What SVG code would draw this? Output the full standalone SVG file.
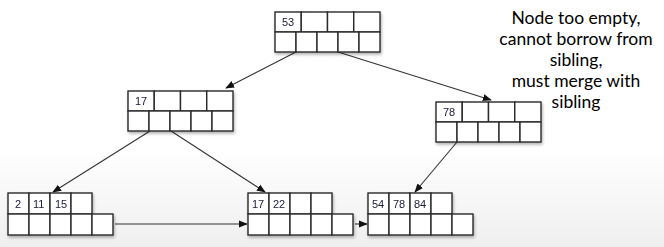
<svg xmlns="http://www.w3.org/2000/svg" width="664" height="247" viewBox="0 0 664 247">
<style>
.c{fill:#fff;stroke:#2a2a2a;stroke-width:1.4}
.n{font-family:"Liberation Sans",Arial,sans-serif;font-size:11px;fill:#1a1a3a}
.t{font-family:Lato,"Open Sans",sans-serif;font-size:17.5px;fill:#000;text-anchor:middle}
.e{stroke:#333;stroke-width:1.1;fill:none;marker-end:url(#ah)}
</style>
<defs>
<linearGradient id="bg" x1="0" y1="0" x2="0" y2="1">
<stop offset="0.6" stop-color="#fff"/>
<stop offset="1" stop-color="#efefef"/>
</linearGradient>
<filter id="sh" x="-10%" y="-10%" width="130%" height="140%">
<feGaussianBlur in="SourceAlpha" stdDeviation="1.5"/>
<feOffset dx="1" dy="2" result="b"/>
<feComponentTransfer><feFuncA type="linear" slope="0.3"/></feComponentTransfer>
<feMerge><feMergeNode/><feMergeNode in="SourceGraphic"/></feMerge>
</filter>
<marker id="ah" viewBox="0 0 10 10" refX="9" refY="5" markerWidth="9" markerHeight="9" orient="auto" markerUnits="userSpaceOnUse">
<path d="M0,1 L10,5 L0,9 z" fill="#111"/>
</marker>
</defs>
<rect width="664" height="247" fill="url(#bg)"/>

<g id="connectors">
<line class="e" x1="296" y1="52" x2="226" y2="88"/>
<line class="e" x1="338" y1="52" x2="491" y2="100"/>
<line class="e" x1="150" y1="131" x2="53" y2="192"/>
<line class="e" x1="171" y1="131" x2="265" y2="192"/>
<line class="e" x1="457" y1="142" x2="415" y2="192"/>
<line class="e" x1="115" y1="224" x2="247" y2="224"/>
<line class="e" x1="355" y1="224" x2="367" y2="224"/>
</g>

<g id="root" filter="url(#sh)">
<rect class="c" x="275" y="12" width="26.25" height="20"/>
<rect class="c" x="301.25" y="12" width="26.25" height="20"/>
<rect class="c" x="327.5" y="12" width="26.25" height="20"/>
<rect class="c" x="353.75" y="12" width="26.25" height="20"/>
<rect class="c" x="275" y="32" width="21" height="20"/>
<rect class="c" x="296" y="32" width="21" height="20"/>
<rect class="c" x="317" y="32" width="21" height="20"/>
<rect class="c" x="338" y="32" width="21" height="20"/>
<rect class="c" x="359" y="32" width="21" height="20"/>
<text class="n" x="282" y="26">53</text>
</g>

<g id="node17" filter="url(#sh)">
<rect class="c" x="128" y="91" width="26.25" height="20"/>
<rect class="c" x="154.25" y="91" width="26.25" height="20"/>
<rect class="c" x="180.5" y="91" width="26.25" height="20"/>
<rect class="c" x="206.75" y="91" width="26.25" height="20"/>
<rect class="c" x="128" y="111" width="21" height="20"/>
<rect class="c" x="149" y="111" width="21" height="20"/>
<rect class="c" x="170" y="111" width="21" height="20"/>
<rect class="c" x="191" y="111" width="21" height="20"/>
<rect class="c" x="212" y="111" width="21" height="20"/>
<text class="n" x="135" y="105">17</text>
</g>

<g id="node78" filter="url(#sh)">
<rect class="c" x="436" y="102" width="26.25" height="20"/>
<rect class="c" x="462.25" y="102" width="26.25" height="20"/>
<rect class="c" x="488.5" y="102" width="26.25" height="20"/>
<rect class="c" x="514.75" y="102" width="26.25" height="20"/>
<rect class="c" x="436" y="122" width="21" height="20"/>
<rect class="c" x="457" y="122" width="21" height="20"/>
<rect class="c" x="478" y="122" width="21" height="20"/>
<rect class="c" x="499" y="122" width="21" height="20"/>
<rect class="c" x="520" y="122" width="21" height="20"/>
<text class="n" x="443" y="116">78</text>
</g>

<g id="leaf1" filter="url(#sh)">
<rect class="c" x="8" y="193" width="21" height="21"/>
<rect class="c" x="29" y="193" width="21" height="21"/>
<rect class="c" x="50" y="193" width="21" height="21"/>
<rect class="c" x="71" y="193" width="21" height="21"/>
<rect class="c" x="8" y="214" width="21" height="21"/>
<rect class="c" x="29" y="214" width="21" height="21"/>
<rect class="c" x="50" y="214" width="21" height="21"/>
<rect class="c" x="71" y="214" width="21" height="21"/>
<rect class="c" x="92" y="214" width="21" height="21"/>
<text class="n" x="15" y="208">2</text>
<text class="n" x="33" y="208">11</text>
<text class="n" x="55" y="208">15</text>
</g>

<g id="leaf2" filter="url(#sh)">
<rect class="c" x="248" y="193" width="21" height="21"/>
<rect class="c" x="269" y="193" width="21" height="21"/>
<rect class="c" x="290" y="193" width="21" height="21"/>
<rect class="c" x="311" y="193" width="21" height="21"/>
<rect class="c" x="248" y="214" width="21" height="21"/>
<rect class="c" x="269" y="214" width="21" height="21"/>
<rect class="c" x="290" y="214" width="21" height="21"/>
<rect class="c" x="311" y="214" width="21" height="21"/>
<rect class="c" x="332" y="214" width="21" height="21"/>
<text class="n" x="252" y="208">17</text>
<text class="n" x="273" y="208">22</text>
</g>

<g id="leaf3" filter="url(#sh)">
<rect class="c" x="368" y="193" width="21" height="21"/>
<rect class="c" x="389" y="193" width="21" height="21"/>
<rect class="c" x="410" y="193" width="21" height="21"/>
<rect class="c" x="431" y="193" width="21" height="21"/>
<rect class="c" x="368" y="214" width="21" height="21"/>
<rect class="c" x="389" y="214" width="21" height="21"/>
<rect class="c" x="410" y="214" width="21" height="21"/>
<rect class="c" x="431" y="214" width="21" height="21"/>
<rect class="c" x="452" y="214" width="21" height="21"/>
<text class="n" x="372" y="208">54</text>
<text class="n" x="393" y="208">78</text>
<text class="n" x="414" y="208">84</text>
</g>

<g id="note">
<text class="t" x="576" y="24">Node too empty,</text>
<text class="t" x="576" y="45">cannot borrow from</text>
<text class="t" x="576" y="66">sibling,</text>
<text class="t" x="576" y="87">must merge with</text>
<text class="t" x="576" y="108">sibling</text>
</g>
</svg>
